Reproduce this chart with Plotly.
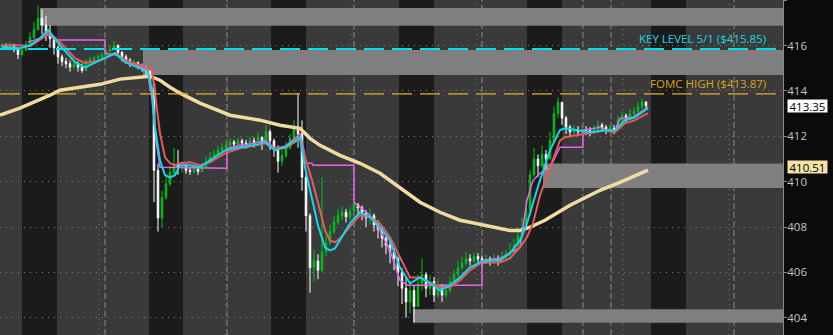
import plotly.graph_objects as go

# ---------------- data ----------------
first_open = 415.95
close = [416.00,415.95,416.05,415.85,415.60,415.80,416.05,416.35,416.70,417.20,
         416.90,416.60,416.30,415.90,415.50,415.30,415.20,415.05,415.20,415.05,
         414.90,415.30,415.40,415.45,415.50,415.60,415.75,415.85,416.00,415.70,
         415.50,415.35,415.20,415.25,415.10,415.00,414.85,414.30,410.50,408.40,
         409.30,409.90,410.40,410.80,410.60,410.70,410.50,410.45,410.55,410.45,
         410.65,410.90,411.05,411.20,411.40,411.50,411.60,411.75,411.65,411.80,
         411.70,411.65,411.80,411.75,411.95,411.70,412.20,411.80,411.50,410.90,
         411.15,411.50,411.90,412.30,412.10,410.20,408.50,406.20,406.50,406.10,
         406.90,407.30,407.80,408.20,408.50,408.65,408.45,408.70,409.00,408.85,
         408.60,408.40,408.50,408.10,407.90,407.50,407.20,406.90,406.60,406.00,
         405.30,404.70,405.20,404.50,405.50,405.90,405.30,405.60,405.00,405.40,
         405.00,405.20,405.60,405.90,406.20,406.40,406.60,406.50,406.70,406.60,
         406.50,406.60,406.50,406.60,406.50,406.70,406.80,406.90,407.20,407.60,
         408.00,408.80,410.30,411.00,410.70,411.20,411.00,411.80,413.00,413.50,
         412.80,412.40,412.20,412.30,412.20,412.30,412.25,412.20,412.30,412.50,
         412.40,412.30,412.35,412.30,412.70,412.90,412.80,413.00,413.10,413.30,
         413.50,413.35]
high = [416.10,416.10,416.15,416.05,415.90,415.95,416.20,416.60,417.05,417.75,
        417.60,417.30,416.90,416.40,416.00,415.60,415.45,415.35,415.35,415.30,
        415.20,415.40,415.50,415.55,415.60,415.70,415.85,416.00,416.20,416.05,
        415.75,415.60,415.45,415.40,415.30,415.20,415.10,414.90,414.40,410.80,
        409.60,410.20,410.70,411.50,411.40,410.90,410.80,410.65,410.70,410.65,
        410.80,411.10,411.30,411.40,411.60,411.70,411.80,411.90,411.85,411.95,
        411.90,411.85,412.00,411.95,412.15,412.00,412.50,412.30,411.90,411.60,
        411.40,411.75,412.10,412.70,413.90,412.70,410.40,408.60,407.00,406.80,
        410.20,407.60,408.10,408.50,408.80,408.90,408.80,408.90,409.10,409.05,
        408.95,408.75,408.80,408.60,408.30,408.00,407.70,407.40,407.10,406.70,
        406.20,405.80,405.60,405.40,405.90,406.60,406.00,405.90,405.80,405.70,
        405.50,405.50,405.80,406.10,406.50,406.70,406.90,406.80,406.90,406.85,
        406.75,406.80,406.70,406.80,406.75,406.90,407.00,407.30,407.50,408.00,
        408.40,409.20,410.50,411.50,411.20,411.60,411.40,412.20,413.30,413.70,
        413.50,412.90,412.50,412.50,412.45,412.50,412.45,412.40,412.50,412.70,
        412.60,412.50,412.50,412.50,412.90,413.10,413.00,413.20,413.30,413.50,
        413.65,413.55]
low = [415.90,415.85,415.90,415.70,415.40,415.55,415.75,416.00,416.30,416.80,
       416.50,416.20,415.90,415.60,415.20,415.10,415.00,414.85,414.95,414.85,
       414.80,414.90,415.20,415.30,415.40,415.45,415.55,415.70,415.80,415.55,
       415.30,415.20,415.05,415.05,414.95,414.85,414.70,414.00,409.10,407.80,
       408.00,409.20,409.80,410.30,410.30,410.40,410.35,410.30,410.35,410.30,
       410.40,410.60,410.85,411.00,411.15,411.30,411.40,411.50,411.45,411.55,
       411.50,411.45,411.55,411.50,411.70,411.40,411.70,411.40,411.10,410.40,
       410.70,411.05,411.40,411.80,411.50,409.60,407.80,405.10,405.60,405.70,
       406.00,406.70,407.20,407.70,408.10,408.30,408.20,408.30,408.60,408.50,
       408.30,408.00,408.10,407.80,407.50,407.10,406.80,406.40,406.10,405.40,
       404.60,404.00,404.20,403.80,404.60,405.20,404.90,405.00,404.70,404.90,
       404.70,404.90,405.10,405.50,405.80,406.10,406.30,406.30,406.40,406.40,
       406.30,406.40,406.30,406.40,406.30,406.45,406.55,406.60,406.80,407.10,
       407.50,407.90,408.60,410.20,410.20,410.60,410.50,411.00,411.70,412.80,
       412.50,412.10,412.00,412.10,412.00,412.10,412.05,412.00,412.10,412.20,
       412.20,412.10,412.15,412.10,412.30,412.60,412.60,412.75,412.90,413.05,
       413.20,413.20]

cyan_t = [0,4.5,7,9.5,11.5,14.5,18.25,20.75,24.5,28.25,30.75,34.5,36.5,37.5,38.25,39.5,40.75,42,43.25,44.5,
          47,49.5,52,55.75,59.5,63.25,65.75,68.25,70.75,73.25,74.5,75.75,77.5,79,80.75,82,83.25,84.5,87,89.5,
          92,94.5,97,99.5,102,104.5,107,109.5,112,114.5,117,119.5,122,124.5,127,129.5,131.25,132.75,134.5,137,
          139.5,140.75,143.25,147,150.75,153.25,155.75,158.25,161.5]
cyan_v = [415.93,415.88,416.01,416.32,416.68,416.01,415.27,415.04,415.35,415.66,415.27,415.00,414.82,414.03,412.40,410.94,410.28,410.19,410.28,410.72,
          410.72,410.63,410.94,411.38,411.52,411.60,411.74,411.38,411.52,411.82,411.96,410.63,409.18,408.07,407.10,406.97,407.06,407.41,408.16,408.65,
          408.43,407.99,407.41,406.22,405.52,405.78,405.52,405.21,405.43,405.78,406.22,406.44,406.53,406.53,406.84,407.41,408.16,409.05,410.06,411.38,
          412.27,412.35,412.27,412.18,412.27,412.27,412.71,412.84,413.24]

red_t = [0,4.5,7,9.5,12,14.5,18.25,20.75,24.5,28.25,30.75,34.5,36.5,37.5,38.25,39.5,40.75,42,43.25,44.5,
         47,49.5,52,55.75,59.5,63.25,65.75,68.25,70.75,73.25,74.5,75.75,77.5,79.5,80.75,82,83.25,84.5,87,89.5,
         92,94.5,97,99.5,102,104.5,107,109.5,112,114.5,117,119.5,122,124.5,127,129.5,131.25,132.75,134.5,137,
         139.5,140.75,143.25,147,150.75,153.25,155.75,158.25,161.5]
red_v = [416.01,416.01,415.97,416.24,416.54,416.15,415.44,415.22,415.35,415.66,415.35,415.13,415.00,414.91,413.90,412.13,411.07,410.81,410.72,410.81,
         410.85,410.72,410.85,411.25,411.47,411.60,411.69,411.47,411.47,411.74,411.91,411.07,410.06,408.74,407.85,407.41,407.33,407.50,407.99,408.52,
         408.43,408.16,407.55,406.66,405.78,405.78,405.56,405.34,405.34,405.65,406.09,406.40,406.44,406.44,406.62,407.10,407.55,408.16,409.40,410.63,
         411.82,411.96,412.04,412.13,412.27,412.18,412.57,412.71,413.02]

magenta_t = [6.5,9.5,11.25,13.25,25.75,25.75,28.75,32,36.5,37.5,38.5,39.5,56.25,56.25,59.5,63.25,65.75,68.25,70.75,73.25,
             74.5,75.5,76,77.5,77.75,88,88,89.5,92,94.5,97,99.5,101.5,120,120,124.5,129.5,131.25,132.75,134.5,
             137,139.5,145.25,145.25,149.5,151.25,153.25,154.5,157.75,161.5]
magenta_v = [416.15,416.32,416.59,416.24,416.24,415.66,415.57,415.27,414.91,413.59,411.82,410.63,410.59,411.47,411.60,411.69,411.82,411.47,411.56,411.91,
             412.13,411.38,410.81,410.81,410.72,410.72,409.09,408.87,408.52,407.85,406.97,405.65,405.43,405.43,406.53,406.62,407.10,409.18,410.06,410.37,
             410.63,411.52,411.52,412.27,412.40,412.27,412.27,412.79,412.84,413.28]

khaki_t = [-0.5,4.5,12,14.5,19.5,24.5,29.5,34.5,37,39.5,42,44.5,49.5,57,64.5,69.5,74.5,77,79.5,84.5,
           89.5,94.5,99.5,104.5,109.5,114.5,117,122,127,129.5,132,135.75,142,149.5,154.5,161.5]
khaki_v = [412.93,413.24,413.81,414.03,414.16,414.29,414.52,414.60,414.65,414.47,414.16,413.90,413.46,412.93,412.71,412.49,412.35,411.91,411.60,411.16,
           410.81,410.37,409.75,409.09,408.65,408.30,408.21,408.03,407.85,407.85,407.99,408.30,408.96,409.62,409.97,410.51]

key_level = 415.85
fomc_high = 413.87
last_price = 413.35
ma_last = 410.51
y_ticks = [404, 406, 408, 410, 412, 414, 416, 418]

# zones (price ranges) and session shading (bar positions)
zones = [(9.5, 416.87, 417.65), (35.25, 414.70, 415.80), (135.25, 409.72, 410.80), (102.75, 403.78, 404.37)]
dark_sessions = [(5.0, 13.75), (36.75, 45.25), (67.25, 76.0), (99.25, 108.0), (131.25, 140.0), (162.25, 171.0)]
dash_v = [25.75, 56.25, 88.0, 120.0, 145.25, 152.25, 183.0]
dot_v = [24.25, 56.0, 87.5, 118.75, 155.25, 181.75]

# ---------------- figure ----------------
n = len(close)
bars = list(range(n))
opens = [first_open] + close[:-1]
X0, X1 = -0.5, 195.25
Y0, Y1 = 403.24, 418.007

fig = go.Figure()
fig.add_trace(go.Scatter(x=khaki_t, y=khaki_v, mode="lines",
                         line=dict(color="#f0dc9e", width=3.5), hoverinfo="skip"))
fig.add_trace(go.Candlestick(x=bars, open=opens, high=high, low=low, close=close,
                             increasing=dict(line=dict(color="#00c21a", width=1), fillcolor="#00c21a"),
                             decreasing=dict(line=dict(color="#ffffff", width=1), fillcolor="#ffffff"),
                             whiskerwidth=0))
fig.add_trace(go.Scatter(x=magenta_t, y=magenta_v, mode="lines",
                         line=dict(color="#e864e8", width=1.5), hoverinfo="skip"))
fig.add_trace(go.Scatter(x=red_t, y=red_v, mode="lines",
                         line=dict(color="#e85a5a", width=2), hoverinfo="skip"))
fig.add_trace(go.Scatter(x=cyan_t, y=cyan_v, mode="lines",
                         line=dict(color="#10d8e8", width=2), hoverinfo="skip"))

shapes = []
for a, b in dark_sessions:
    shapes.append(dict(type="rect", xref="x", yref="paper", x0=a, x1=b, y0=0, y1=1,
                       fillcolor="#1b1b1b", line=dict(width=0), layer="below"))
for xs, lo, hi in zones:
    shapes.append(dict(type="rect", xref="x", yref="y", x0=xs, x1=X1, y0=lo, y1=hi,
                       fillcolor="#7f7f7f", line=dict(width=0), layer="below"))
for xv in dot_v:
    shapes.append(dict(type="line", xref="x", yref="paper", x0=xv, x1=xv, y0=0, y1=1,
                       line=dict(color="#777777", width=1, dash="1px,4px"), layer="below"))
for xv in dash_v:
    shapes.append(dict(type="line", xref="x", yref="paper", x0=xv, x1=xv, y0=0, y1=1,
                       line=dict(color="#6f6f6f", width=1.5, dash="6px,3px"), layer="below"))
shapes.append(dict(type="line", xref="paper", yref="y", x0=0, x1=1, y0=key_level, y1=key_level,
                   line=dict(color="#00e1ee", width=2, dash="20px,8px")))
shapes.append(dict(type="line", xref="paper", yref="y", x0=0, x1=1, y0=fomc_high, y1=fomc_high,
                   line=dict(color="#e0b12c", width=1.2, dash="20px,8px")))

annotations = [
    dict(xref="paper", yref="y", x=0.981, y=key_level, yshift=10, xanchor="right", yanchor="middle",
         text="KEY LEVEL 5/1 ($415.85)", showarrow=False,
         font=dict(family="Open Sans", size=11.5, color="#18d6e4")),
    dict(xref="paper", yref="y", x=0.981, y=fomc_high, yshift=10, xanchor="right", yanchor="middle",
         text="FOMC HIGH ($413.87)", showarrow=False,
         font=dict(family="Open Sans", size=11.5, color="#d4a521")),
    dict(xref="paper", yref="y", x=1, xshift=4, y=last_price, xanchor="left", yanchor="middle",
         text="413.35", showarrow=False, bgcolor="#ffffff", borderpad=0, height=12, width=39,
         font=dict(family="Open Sans", size=11.5, color="#000000")),
    dict(xref="paper", yref="y", x=1, xshift=4, y=ma_last, yshift=3, xanchor="left", yanchor="middle",
         text="410.51", showarrow=False, bgcolor="#f3e3a4", borderpad=0, height=12, width=39,
         font=dict(family="Open Sans", size=11.5, color="#000000")),
]

fig.update_layout(
    width=833, height=335,
    margin=dict(l=0, r=50, t=0, b=0),
    paper_bgcolor="#0b0b0b", plot_bgcolor="#3a3a3a",
    showlegend=False, shapes=shapes, annotations=annotations, boxgap=0.45,
    xaxis=dict(range=[X0, X1], showgrid=False, zeroline=False, showticklabels=False,
               rangeslider=dict(visible=False), fixedrange=True),
    yaxis=dict(range=[Y0, Y1], side="right", tickvals=y_ticks, ticks="outside", ticklen=3,
               ticklabelstandoff=-2,
               tickcolor="#8a8a8a", showline=True, linecolor="#8a8a8a", linewidth=1,
               showgrid=True, gridcolor="#7e7e7e", griddash="1px,5px", gridwidth=1,
               zeroline=False, tickfont=dict(family="Open Sans", size=11.5, color="#c4c4c4")),
)

fig.write_html("out.html")
